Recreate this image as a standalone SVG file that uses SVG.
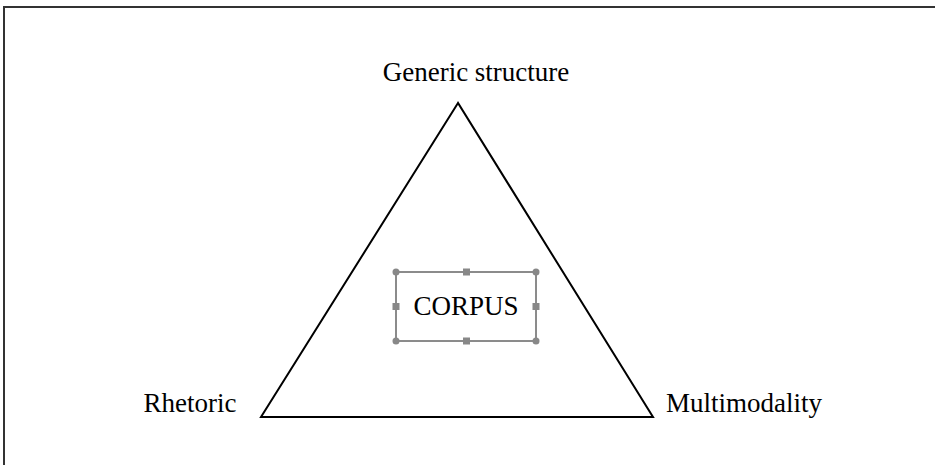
<svg xmlns="http://www.w3.org/2000/svg" width="935" height="465" viewBox="0 0 935 465">
<style>
.lbl{font-family:"Liberation Serif","Times New Roman",serif;font-size:27px;fill:#000}
.h{fill:#888;stroke:none}
</style>
<rect width="935" height="465" fill="#fff"/>
<path d="M4 465 V7 H935" fill="none" stroke="#333" stroke-width="2"/>
<g id="connectors">
<polygon points="458,103 261,417 653,417" fill="none" stroke="#000" stroke-width="2"/>
</g>
<g id="generic"><text class="lbl" x="476" y="81" text-anchor="middle">Generic structure</text></g>
<g id="rhetoric"><text class="lbl" x="190" y="412" text-anchor="middle">Rhetoric</text></g>
<g id="multimodality"><text class="lbl" x="744" y="412" text-anchor="middle">Multimodality</text></g>
<g id="corpus">
<rect x="396" y="272" width="140" height="69" fill="none" stroke="#666" stroke-width="1.5"/>
<circle class="h" cx="396" cy="272" r="3.5"/>
<circle class="h" cx="536" cy="272" r="3.5"/>
<circle class="h" cx="396" cy="341" r="3.5"/>
<circle class="h" cx="536" cy="341" r="3.5"/>
<rect class="h" x="463" y="268.5" width="7" height="7"/>
<rect class="h" x="463" y="337.5" width="7" height="7"/>
<rect class="h" x="392.5" y="303" width="7" height="7"/>
<rect class="h" x="532.5" y="303" width="7" height="7"/>
<text class="lbl" x="466" y="315" text-anchor="middle">CORPUS</text>
</g>
</svg>
